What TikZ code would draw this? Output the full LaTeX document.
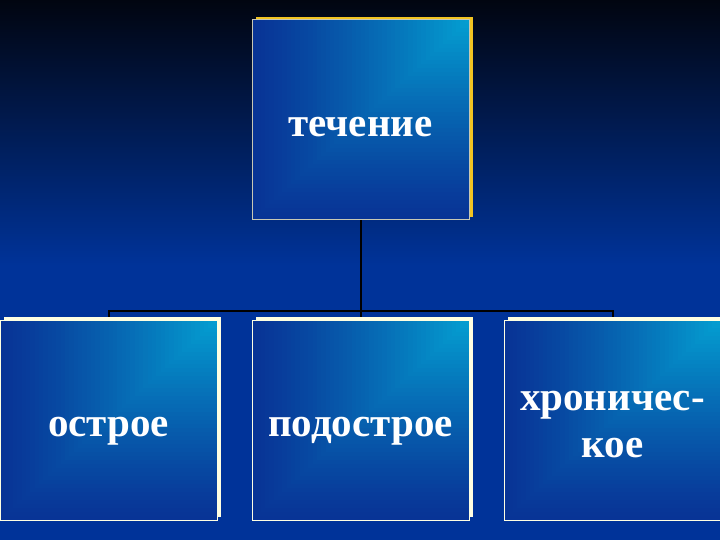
\documentclass[tikz,border=0pt]{standalone}
\usepackage{fontspec}
\setmainfont{Liberation Serif}
\usetikzlibrary{shadows,calc}

\definecolor{bgtop}{RGB}{1,5,16}
\definecolor{bgblue}{RGB}{0,51,153}
\definecolor{boxlight}{RGB}{4,160,210}
\definecolor{boxdark}{RGB}{8,52,150}
\definecolor{gold}{RGB}{242,196,34}
\definecolor{cream}{RGB}{255,255,226}
\definecolor{rimgray}{RGB}{200,200,180}

\pgfdeclarelayer{bg}
\pgfdeclarelayer{lines}
\pgfsetlayers{bg,lines,main}

\tikzset{
	card/.style={rectangle,minimum width=217pt,minimum height=200pt,inner sep=0pt,line width=1pt,
		text=white,align=center,font=\fontsize{41}{47}\selectfont\bfseries,text height=36pt,text depth=3pt,
		path picture={
			\foreach \i in {0,...,50}{
				\pgfmathsetmacro{\s}{1-\i/50}
				\pgfmathsetmacro{\t}{100*(1-\s)^1.2}
				\fill[boxlight!\t!boxdark] (path picture bounding box.north east) rectangle ($(path picture bounding box.north east)!\s!(path picture bounding box.south west)$);
			}
		}},
	topcard/.style={card,draw=rimgray,drop shadow={shadow xshift=4pt,shadow yshift=3pt,opacity=1,fill=gold}},
	subcard/.style={card,draw=cream,drop shadow={shadow xshift=4pt,shadow yshift=3pt,opacity=1,fill=cream}},
	link/.style={draw=black,line width=2pt}
}

\begin{document}
\begin{tikzpicture}[x=1pt,y=-1pt]
	\useasboundingbox (0,0) rectangle (720,540);
	\begin{pgfonlayer}{bg}
		\fill[bgblue] (0,0) rectangle (720,540);
		\shade[top color=bgtop,bottom color=bgblue] (0,0) rectangle (720,265);
	\end{pgfonlayer}
	\node[topcard] (flow) at (360.5,120) {течение};
	\node[subcard] (acute) at (108.5,420) {острое};
	\node[subcard] (subacute) at (360.5,420) {подострое};
	\node[subcard,text height=77pt] (chronic) at (612.5,420) {хроничес-\\кое};
	\coordinate (bus) at (360,311);
	\begin{pgfonlayer}{lines}
		\draw[link] (flow.south) -- (subacute.north);
		\draw[link] (acute.north) -- (acute.north |- bus) -- (chronic.north |- bus) -- (chronic.north);
	\end{pgfonlayer}
\end{tikzpicture}
\end{document}
